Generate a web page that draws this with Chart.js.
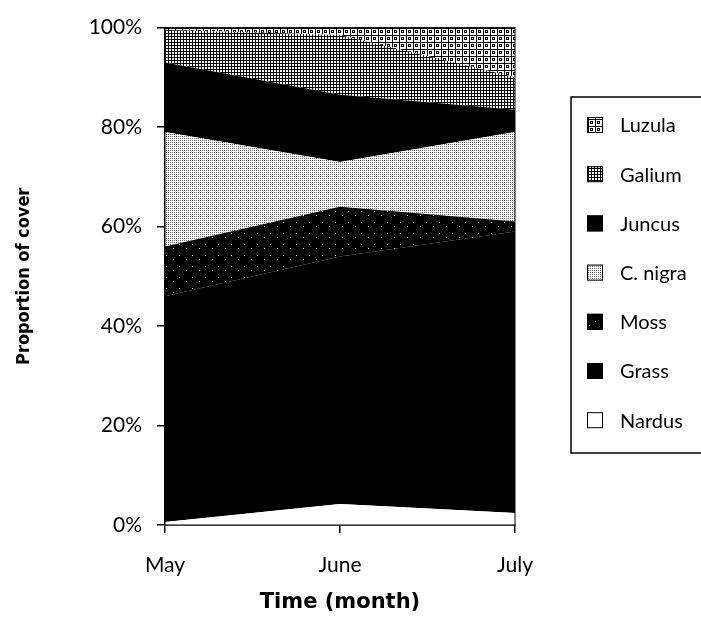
<!DOCTYPE html>
<html lang="en">
<head>
<meta charset="UTF-8">
<title>Proportion of cover</title>
<script src="https://cdn.jsdelivr.net/npm/chart.js@4.4.0/dist/chart.umd.min.js"></script>
<style>
    body { margin: 0; background: #fff; }
    #wrap { width: 701px; height: 629px; }
</style>
</head>
<body>
<div id="wrap"><canvas id="coverChart"></canvas></div>
<script>
// Data (percent of cover)
const months = ['May', 'June', 'July'];
const nardus = [0.6, 4.2, 2.4];
const grass = [45.4, 49.8, 56.6];
const moss = [10, 10, 2];
const cNigra = [23, 9, 18];
const juncus = [14, 13.5, 4.5];
const galium = [6.5, 12, 6.5];
const luzula = [0.5, 1.5, 10];
const yTicks = [0, 20, 40, 60, 80, 100];

const FONT = 'Lato, "Open Sans", sans-serif';

// small tiles used as fill patterns
function makePattern(w, h, bg, fg, rects) {
    const c = document.createElement('canvas');
    c.width = w; c.height = h;
    const g = c.getContext('2d');
    g.fillStyle = bg;
    g.fillRect(0, 0, w, h);
    g.fillStyle = fg;
    rects.forEach(r => g.fillRect(r[0], r[1], r[2], r[3]));
    return g.createPattern(c, 'repeat');
}

const pLuzula = makePattern(7, 7, '#fff', '#000', [[0, 0, 7, 1], [0, 0, 1, 7], [2, 2, 3, 1], [2, 4, 3, 1], [2, 3, 1, 1], [4, 3, 1, 1]]);
const pGalium = makePattern(3, 3, '#fff', '#000', [[0, 0, 3, 1], [0, 0, 1, 3]]);
const pCNigra = makePattern(2, 2, '#fff', '#6a6a6a', [[0, 0, 1, 1]]);
const pMoss = makePattern(13, 11, '#000', '#fff', [[4, 6, 1, 1], [10, 2, 1, 1]]);

function area(label, data, bg, fill) {
    return {
        label: label,
        data: data,
        backgroundColor: bg,
        borderWidth: 0,
        pointRadius: 0,
        tension: 0,
        fill: fill
    };
}

const legendBox = {
    id: 'legendBox',
    afterDraw(chart) {
        const ctx = chart.ctx;
        const a = chart.chartArea;
        // frame round the plot
        ctx.save();
        ctx.strokeStyle = '#000';
        ctx.lineWidth = 1;
        ctx.strokeRect(a.left, a.top, a.right - a.left, a.bottom - a.top);

        const x0 = a.right + 56, y0 = 97, h = 356;
        ctx.lineWidth = 1.5;
        ctx.strokeRect(x0, y0, 140, h);
        const sets = chart.data.datasets.slice().reverse();
        ctx.font = '20px ' + FONT;
        ctx.textBaseline = 'middle';
        sets.forEach((ds, i) => {
            const cy = 125 + i * 49.2;
            ctx.fillStyle = ds.backgroundColor;
            ctx.fillRect(x0 + 16, cy - 8, 16, 16);
            ctx.lineWidth = 1;
            ctx.strokeRect(x0 + 16.5, cy - 7.5, 15, 15);
            ctx.fillStyle = '#000';
            ctx.fillText(ds.label, x0 + 49, cy + 1);
        });
        ctx.restore();
    }
};

new Chart(document.getElementById('coverChart'), {
    type: 'line',
    data: {
        labels: months,
        datasets: [
            area('Nardus', nardus, '#fff', 'origin'),
            area('Grass', grass, '#000', '-1'),
            area('Moss', moss, pMoss, '-1'),
            area('C. nigra', cNigra, pCNigra, '-1'),
            area('Juncus', juncus, '#000', '-1'),
            area('Galium', galium, pGalium, '-1'),
            area('Luzula', luzula, pLuzula, '-1')
        ]
    },
    options: {
        responsive: true,
        maintainAspectRatio: false,
        animation: false,
        layout: { padding: { left: 0, right: 186, top: 22, bottom: 0 } },
        plugins: {
            legend: { display: false },
            tooltip: { enabled: false }
        },
        scales: {
            x: {
                offset: false,
                grid: { drawOnChartArea: false, drawTicks: true, tickLength: 8, color: '#000', lineWidth: 1.5 },
                border: { display: true, color: '#000', width: 1.5 },
                ticks: { color: '#000', font: { family: FONT, size: 21 }, padding: 20, maxRotation: 0 },
                title: {
                    display: true,
                    text: 'Time (month)',
                    color: '#000',
                    font: { family: '"DejaVu Sans", sans-serif', size: 21, weight: 'bold' },
                    padding: { top: 0, bottom: 14 }
                },
                afterFit(scale) { scale.height = 104; }
            },
            y: {
                stacked: true,
                min: 0,
                max: 100,
                afterBuildTicks(scale) { scale.ticks = yTicks.map(v => ({ value: v })); },
                grid: { drawOnChartArea: false, drawTicks: true, tickLength: 8, color: '#000', lineWidth: 1.5 },
                border: { display: true, color: '#000', width: 1.5 },
                ticks: {
                    color: '#000',
                    font: { family: FONT, size: 21 },
                    padding: 15,
                    callback: v => v + '%'
                },
                title: {
                    display: true,
                    text: 'Proportion of cover',
                    color: '#000',
                    font: { family: '"Liberation Sans Narrow", "DejaVu Sans Condensed", "Liberation Sans", sans-serif', size: 18, weight: 'bold' },
                    padding: { top: 14, bottom: 0 }
                },
                afterFit(scale) { scale.width = 165; }
            }
        }
    },
    plugins: [legendBox]
});
</script>
</body>
</html>
